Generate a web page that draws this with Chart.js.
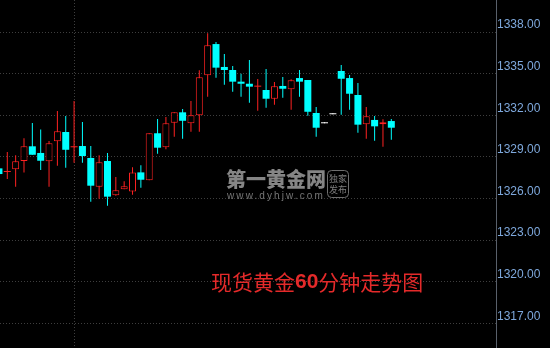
<!DOCTYPE html>
<html>
<head>
<meta charset="utf-8">
<script src="https://cdn.jsdelivr.net/npm/chart.js@4/dist/chart.umd.min.js"></script>
<style>
  html, body { margin: 0; padding: 0; background: #000; overflow: hidden; }
  #wrap { width: 550px; height: 348px; }
</style>
</head>
<body>
<div id="wrap"><canvas id="c" width="550" height="348"></canvas></div>
<script>
// 60-minute spot gold candles (oldest first)
const opens  = [1328.17, 1327.91, 1328.10, 1328.70, 1329.76, 1329.28, 1328.68, 1330.12, 1330.79, 1329.69,
                1329.78, 1328.92, 1326.85, 1328.70, 1326.23, 1326.66, 1326.51, 1327.88, 1327.31, 1330.70,
                1329.69, 1331.46, 1332.21, 1331.42, 1331.99, 1334.88, 1337.13, 1335.48, 1335.26, 1334.42,
                1334.27, 1334.06, 1333.82, 1333.19, 1334.11, 1333.87, 1334.68, 1334.54, 1332.16, 1331.42,
                1332.07, 1335.19, 1334.68, 1333.46, 1331.35, 1331.66, 1331.35, 1331.58];
const highs  = [1328.30, 1329.35, 1329.11, 1330.34, 1331.44, 1330.98, 1330.14, 1332.30, 1331.94, 1333.03,
                1331.51, 1329.78, 1329.11, 1329.28, 1327.55, 1327.24, 1328.25, 1328.39, 1330.70, 1331.73,
                1331.87, 1332.21, 1332.45, 1333.03, 1335.24, 1337.91, 1337.28, 1336.41, 1335.55, 1334.99,
                1335.98, 1334.61, 1335.33, 1334.40, 1334.76, 1334.60, 1335.26, 1334.54, 1332.59, 1331.42,
                1332.07, 1335.62, 1334.90, 1334.32, 1332.59, 1331.94, 1331.71, 1331.73];
const lows   = [1327.60, 1327.40, 1326.85, 1327.88, 1329.15, 1328.05, 1326.85, 1328.36, 1328.22, 1328.58,
                1328.58, 1325.76, 1325.98, 1325.48, 1326.20, 1326.66, 1326.27, 1326.77, 1327.31, 1329.23,
                1329.54, 1330.45, 1330.31, 1330.81, 1330.81, 1333.34, 1334.71, 1334.20, 1333.70, 1333.34,
                1332.90, 1332.33, 1332.54, 1332.76, 1333.26, 1332.40, 1333.34, 1331.97, 1330.45, 1331.42,
                1332.07, 1332.04, 1332.40, 1330.74, 1330.31, 1330.16, 1329.73, 1330.23];
const closes = [1327.76, 1327.91, 1328.68, 1329.76, 1329.15, 1328.72, 1329.98, 1330.84, 1329.51, 1329.69,
                1329.06, 1326.92, 1328.61, 1326.13, 1326.59, 1326.88, 1327.88, 1327.35, 1330.70, 1329.66,
                1331.42, 1332.21, 1331.60, 1331.99, 1334.73, 1337.04, 1335.43, 1335.26, 1334.42, 1334.27,
                1334.06, 1334.06, 1333.19, 1334.09, 1333.91, 1334.52, 1334.42, 1332.25, 1331.10, 1331.42,
                1332.07, 1334.63, 1333.55, 1331.32, 1331.92, 1331.20, 1331.49, 1331.10];

// price axis ticks and the session separator (candle index)
const priceTicks = [1317, 1320, 1323, 1326, 1329, 1332, 1335, 1338];
const sessionBreaks = [9];

const UP = '#ff2222', DOWN = '#00ffff', FLAT = '#ffffff';
const GRID = '#3e3e3e';

function candleColor(i) {
  if (highs[i] === lows[i]) return FLAT;
  return closes[i] >= opens[i] ? UP : DOWN;
}
function isHollow(i) {
  return highs[i] !== lows[i] && closes[i] > opens[i];
}

const idx = opens.map((_, i) => i);
const wickData = idx.map(i => ({ x: i, y: [lows[i], highs[i]] }));
const bodyData = idx.map(i => ({ x: i, y: [opens[i], closes[i]] }));

// watermark under the candles, caption above them
const overlay = {
  id: 'overlay',
  beforeDatasetsDraw(chart) {
    const ctx = chart.ctx;
    ctx.save();
    ctx.fillStyle = '#858585';
    ctx.textBaseline = 'middle';
    ctx.textAlign = 'left';
    ctx.font = '900 20px "Noto Sans CJK SC"';
    ctx.fillText('第一黄金网', 226, 179);
    ctx.fillStyle = '#767676';
    ctx.font = '10px "Liberation Sans"';
    ctx.letterSpacing = '2.1px';
    ctx.textBaseline = 'alphabetic';
    ctx.fillText('www.dyhjw.com', 227, 199);
    ctx.letterSpacing = '0px';
    ctx.strokeStyle = '#6e6e6e';
    ctx.lineWidth = 1;
    ctx.beginPath();
    ctx.roundRect(327.5, 170.5, 21, 27, 4);
    ctx.stroke();
    ctx.fillStyle = '#7e7e7e';
    ctx.font = '9px "Noto Sans CJK SC"';
    ctx.textAlign = 'center';
    ctx.textBaseline = 'middle';
    ctx.fillText('独家', 338, 178.5);
    ctx.fillText('发布', 338, 190);
    ctx.restore();
  },
  afterDatasetsDraw(chart) {
    const ctx = chart.ctx;
    ctx.save();
    ctx.fillStyle = '#e42a2a';
    ctx.textAlign = 'left';
    ctx.textBaseline = 'middle';
    const parts = [
      ['现货黄金', '21px "Noto Sans CJK SC"'],
      ['60', 'bold 21px "Liberation Sans"'],
      ['分钟走势图', '21px "Noto Sans CJK SC"']
    ];
    let x = 211;
    for (const [txt, font] of parts) {
      ctx.font = font;
      ctx.fillText(txt, x, 282);
      x += ctx.measureText(txt).width;
    }
    ctx.restore();
  }
};

new Chart(document.getElementById('c'), {
  type: 'bar',
  data: {
    datasets: [
      {
        label: 'body',
        data: bodyData,
        order: 0,
        grouped: false,
        barThickness: 7,
        minBarLength: 1,
        inflateAmount: 0,
        borderSkipped: false,
        backgroundColor: c => {
          const i = c.dataIndex;
          if (isHollow(i)) return '#000000';
          return candleColor(i);
        },
        borderColor: c => candleColor(c.dataIndex),
        borderWidth: c => isHollow(c.dataIndex) ? 1 : 0
      },
      {
        label: 'wick',
        data: wickData,
        order: 1,
        grouped: false,
        barThickness: 1,
        minBarLength: 1,
        inflateAmount: 0,
        borderWidth: 0,
        backgroundColor: c => candleColor(c.dataIndex)
      }
    ]
  },
  options: {
    responsive: false,
    animation: false,
    devicePixelRatio: 1,
    layout: { padding: 0 },
    plugins: { legend: { display: false }, tooltip: { enabled: false } },
    scales: {
      x: {
        type: 'linear',
        bounds: 'data',
        min: 0.126,
        max: 59.54,
        offset: false,
        grid: { offset: false, color: GRID, drawTicks: false, lineWidth: 1 },
        border: { display: false, dash: [1, 2] },
        ticks: { display: false },
        afterBuildTicks: s => { s.ticks = sessionBreaks.map(v => ({ value: v })); },
        afterFit: s => { s.height = 0; s.paddingLeft = 0; s.paddingRight = 0; }
      },
      y: {
        position: 'right',
        bounds: 'data',
        min: 1315.22,
        max: 1340.307,
        grid: { color: GRID, drawTicks: false, lineWidth: 1 },
        border: { display: true, color: '#59606b', width: 1, dash: [1, 2] },
        ticks: {
          color: '#7ea8dc',
          font: { family: '"Liberation Sans", Arial, sans-serif', size: 12 },
          padding: 1,
          labelOffset: -7,
          callback: v => Number(v).toFixed(2)
        },
        afterBuildTicks: s => { s.ticks = priceTicks.map(v => ({ value: v })); },
        afterFit: s => { s.width = 54; s.paddingTop = 0; s.paddingBottom = 0; }
      }
    }
  },
  plugins: [overlay]
});
</script>
</body>
</html>
